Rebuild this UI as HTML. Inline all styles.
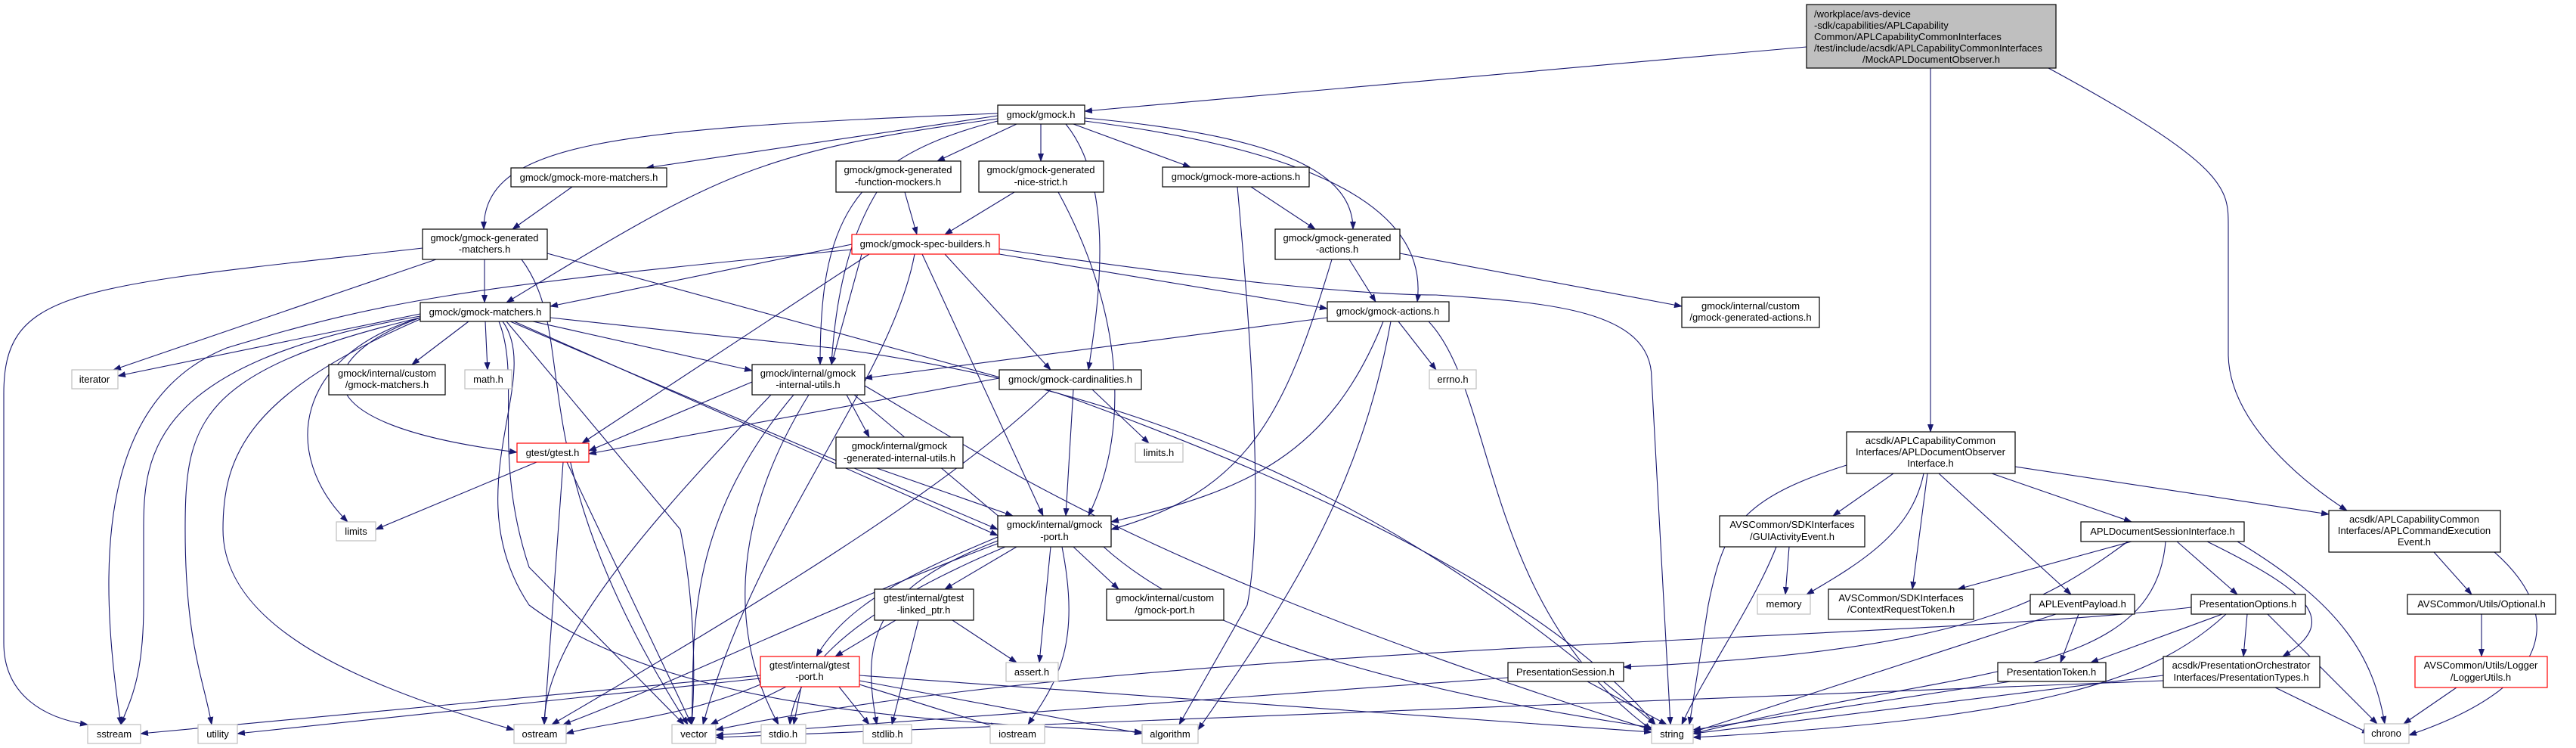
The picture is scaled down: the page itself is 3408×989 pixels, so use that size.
<!DOCTYPE html>
<html><head><meta charset="utf-8"><style>
html,body{margin:0;padding:0;background:#fff;}
svg{display:block;}
text{font-family:"Liberation Sans",Arial,sans-serif;font-size:13px;fill:#000;}
.e{fill:none;stroke:#191970;stroke-width:1.1;}
.n{fill:#fff;stroke:#000;stroke-width:1.2;}
.g{fill:#fff;stroke:#bfbfbf;stroke-width:1.2;}
.r{fill:#fff;stroke:#ff0000;stroke-width:1.2;}
</style></head><body>
<svg width="3408" height="989" viewBox="0 0 3408 989" xmlns="http://www.w3.org/2000/svg">
<defs><marker id="a" markerWidth="11" markerHeight="8" refX="10" refY="4" orient="auto" markerUnits="userSpaceOnUse"><path d="M0,0 L11,4 L0,8 z" fill="#191970"/></marker></defs>
<g class="e" marker-end="url(#a)">
<path d="M2390,62 L1435,147"/>
<path d="M2554,90 L2554,571"/>
<path d="M2710,90 C2950,220 2948,250 2948,300 L2948,470 C2950,560 3050,640 3105,675"/>
<path d="M1320,150 C800,170 640,190 640,303"/>
<path d="M1320,153 L855,222"/>
<path d="M1320,157 C1000,200 950,230 670,400"/>
<path d="M1345,164 L1240,213"/>
<path d="M1377,164 L1377,213"/>
<path d="M1420,164 L1575,221"/>
<path d="M1435,156 C1700,180 1790,230 1790,303"/>
<path d="M1435,160 C1750,200 1890,280 1875,399"/>
<path d="M1320,160 C1120,210 1085,300 1085,482"/>
<path d="M1410,164 C1480,250 1450,420 1440,489"/>
<path d="M757,247 L678,303"/>
<path d="M641,343 L641,400"/>
<path d="M577,343 L150,489"/>
<path d="M559,328 C100,380 5,380 5,520 L5,850 C5,920 60,950 116,958"/>
<path d="M724,335 L1400,520 C1900,700 2100,850 2190,958"/>
<path d="M690,343 C770,450 680,600 910,958"/>
<path d="M556,415 L156,497"/>
<path d="M620,425 L545,482"/>
<path d="M642,425 L645,489"/>
<path d="M705,425 L995,490"/>
<path d="M556,420 C420,470 380,560 684,598"/>
<path d="M556,420 C390,470 370,600 460,690"/>
<path d="M556,418 C200,480 190,600 190,700 L190,800 C190,900 170,930 160,958"/>
<path d="M556,420 C260,490 245,560 245,700 C245,850 270,900 280,958"/>
<path d="M556,422 C330,520 295,600 295,700 C295,820 450,900 680,965"/>
<path d="M660,425 C690,500 650,600 700,750 L905,958"/>
<path d="M670,425 L900,700 C920,800 920,900 915,958"/>
<path d="M675,425 L1320,700"/>
<path d="M680,425 L1320,708"/>
<path d="M728,420 L1100,460 C1700,540 2000,800 2190,958"/>
<path d="M665,425 C720,500 600,650 700,800 C900,950 1300,955 1511,968"/>
<path d="M1127,323 L728,405"/>
<path d="M1140,336 L1100,482"/>
<path d="M1150,336 L770,586"/>
<path d="M1250,336 L1390,489"/>
<path d="M1220,336 L1380,682"/>
<path d="M1210,336 C1180,500 1000,700 930,958"/>
<path d="M1127,330 C600,380 500,400 300,460 C150,520 120,700 160,958"/>
<path d="M1322,336 L1756,408"/>
<path d="M1322,329 C1600,370 1800,390 1900,390 C2050,400 2185,410 2185,500 L2210,958"/>
<path d="M1197,254 L1213,310"/>
<path d="M1160,254 C1120,320 1105,400 1100,482"/>
<path d="M1342,254 L1250,310"/>
<path d="M1400,254 C1480,400 1500,560 1440,682"/>
<path d="M1655,247 L1740,303"/>
<path d="M1637,247 C1660,500 1670,700 1650,800 L1560,958"/>
<path d="M1785,343 L1820,399"/>
<path d="M1852,335 L2225,405"/>
<path d="M1762,343 C1700,550 1650,650 1470,700"/>
<path d="M1756,420 L1144,500"/>
<path d="M1830,425 C1760,600 1650,650 1470,690"/>
<path d="M1850,425 L1900,489"/>
<path d="M1890,425 C1980,520 1960,800 2185,965"/>
<path d="M1840,425 C1800,650 1700,800 1585,965"/>
<path d="M995,505 L779,596"/>
<path d="M1120,522 L1150,578"/>
<path d="M1130,522 L1330,690"/>
<path d="M1020,522 C850,700 720,850 720,958"/>
<path d="M1050,522 C900,700 920,850 915,958"/>
<path d="M1070,522 C960,700 970,850 1030,958"/>
<path d="M1144,510 C1300,600 1500,750 2185,965"/>
<path d="M1322,500 L779,600"/>
<path d="M1445,515 L1520,586"/>
<path d="M1420,515 L1410,682"/>
<path d="M1390,515 C1250,650 1000,800 730,958"/>
<path d="M710,611 L497,700"/>
<path d="M745,611 L720,958"/>
<path d="M750,611 L915,958"/>
<path d="M1160,619 L1340,682"/>
<path d="M1345,723 L1250,779"/>
<path d="M1420,723 L1480,779"/>
<path d="M1390,723 L1375,876"/>
<path d="M1405,723 C1430,850 1400,900 1360,958"/>
<path d="M1320,715 C1150,780 1140,850 1160,958"/>
<path d="M1320,710 C1200,760 1120,800 1080,868"/>
<path d="M1460,723 C1600,850 1900,920 2185,962"/>
<path d="M1330,723 C1100,820 1050,900 1045,958"/>
<path d="M1330,715 C1100,800 900,900 745,958"/>
<path d="M1185,820 L1105,868"/>
<path d="M1260,820 L1345,876"/>
<path d="M1215,820 L1180,958"/>
<path d="M1006,893 L186,970"/>
<path d="M1006,897 L314,970"/>
<path d="M1040,908 L940,958"/>
<path d="M1060,908 L1050,958"/>
<path d="M1110,908 L1150,958"/>
<path d="M1137,905 L1320,962"/>
<path d="M1137,900 L1511,970"/>
<path d="M1137,893 L2185,968"/>
<path d="M1006,905 C900,950 800,955 749,970"/>
<path d="M2505,626 L2425,682"/>
<path d="M2545,626 C2530,700 2470,740 2390,786"/>
<path d="M2550,626 L2530,779"/>
<path d="M2565,626 L2740,786"/>
<path d="M2635,626 L2820,690"/>
<path d="M2666,617 L3081,680"/>
<path d="M2443,615 C2300,660 2280,700 2260,800 L2235,958"/>
<path d="M2367,723 L2362,786"/>
<path d="M2350,723 C2320,800 2250,900 2225,958"/>
<path d="M2820,716 L2590,779"/>
<path d="M2815,716 C2700,800 2600,860 2148,882"/>
<path d="M2880,716 L2960,786"/>
<path d="M2920,716 C3050,780 3100,820 3020,868"/>
<path d="M2960,716 C3100,800 3140,870 3155,957"/>
<path d="M2865,716 C2850,900 2600,880 2240,970"/>
<path d="M2750,812 L2726,876"/>
<path d="M2720,812 L2240,968"/>
<path d="M2940,812 L2766,876"/>
<path d="M2973,812 L2968,868"/>
<path d="M3000,812 L3145,957"/>
<path d="M2945,812 C2850,900 2700,950 2240,975"/>
<path d="M2899,803 C2500,850 1500,850 947,965"/>
<path d="M2100,901 L2205,958"/>
<path d="M1995,896 L947,972"/>
<path d="M2660,901 L2240,965"/>
<path d="M3010,909 L3135,970"/>
<path d="M2862,893 L2240,970"/>
<path d="M2862,900 L947,975"/>
<path d="M3220,730 L3270,786"/>
<path d="M3300,730 C3380,800 3400,900 3187,972"/>
<path d="M3283,812 L3283,868"/>
<path d="M3250,909 L3180,957"/>
</g>
<!-- nodes -->
<rect x="2390" y="6" width="330" height="84" fill="#bfbfbf" stroke="#000" stroke-width="1.2"/>
<text x="2400" y="23">/workplace/avs-device</text>
<text x="2400" y="38">-sdk/capabilities/APLCapability</text>
<text x="2400" y="53">Common/APLCapabilityCommonInterfaces</text>
<text x="2400" y="68">/test/include/acsdk/APLCapabilityCommonInterfaces</text>
<text x="2555" y="83" text-anchor="middle">/MockAPLDocumentObserver.h</text>
<g text-anchor="middle">
<rect class="n" x="1320" y="139" width="115" height="25"/><text x="1377" y="156">gmock/gmock.h</text>
<rect class="n" x="676" y="222" width="206" height="25"/><text x="779" y="239">gmock/gmock-more-matchers.h</text>
<rect class="n" x="559" y="303" width="165" height="40"/><text x="641" y="319">gmock/gmock-generated</text><text x="641" y="334">-matchers.h</text>
<rect class="n" x="556" y="400" width="172" height="25"/><text x="642" y="417">gmock/gmock-matchers.h</text>
<rect class="g" x="95" y="489" width="61" height="25"/><text x="125" y="506">iterator</text>
<rect class="n" x="435" y="482" width="154" height="40"/><text x="512" y="498">gmock/internal/custom</text><text x="512" y="513">/gmock-matchers.h</text>
<rect class="g" x="615" y="489" width="62" height="25"/><text x="646" y="506">math.h</text>
<rect class="n" x="995" y="482" width="149" height="40"/><text x="1069" y="498">gmock/internal/gmock</text><text x="1069" y="513">-internal-utils.h</text>
<rect class="r" x="684" y="586" width="95" height="25"/><text x="731" y="603">gtest/gtest.h</text>
<rect class="g" x="445" y="690" width="52" height="25"/><text x="471" y="707">limits</text>
<rect class="g" x="116" y="958" width="70" height="25"/><text x="151" y="975">sstream</text>
<rect class="g" x="262" y="958" width="52" height="25"/><text x="288" y="975">utility</text>
<rect class="g" x="680" y="958" width="69" height="25"/><text x="714" y="975">ostream</text>
<rect class="g" x="889" y="958" width="58" height="25"/><text x="918" y="975">vector</text>
<rect class="g" x="1007" y="958" width="59" height="25"/><text x="1036" y="975">stdio.h</text>
<rect class="r" x="1006" y="868" width="131" height="40"/><text x="1071" y="884">gtest/internal/gtest</text><text x="1071" y="899">-port.h</text>
<rect class="n" x="1106" y="213" width="165" height="41"/><text x="1188" y="229">gmock/gmock-generated</text><text x="1188" y="245">-function-mockers.h</text>
<rect class="n" x="1295" y="213" width="165" height="41"/><text x="1377" y="229">gmock/gmock-generated</text><text x="1377" y="245">-nice-strict.h</text>
<rect class="n" x="1538" y="221" width="194" height="26"/><text x="1635" y="238">gmock/gmock-more-actions.h</text>
<rect class="r" x="1127" y="310" width="195" height="26"/><text x="1224" y="327">gmock/gmock-spec-builders.h</text>
<rect class="n" x="1687" y="303" width="165" height="40"/><text x="1769" y="319">gmock/gmock-generated</text><text x="1769" y="334">-actions.h</text>
<rect class="n" x="1756" y="399" width="161" height="26"/><text x="1836" y="416">gmock/gmock-actions.h</text>
<rect class="n" x="2225" y="393" width="182" height="40"/><text x="2316" y="409">gmock/internal/custom</text><text x="2316" y="424">/gmock-generated-actions.h</text>
<rect class="g" x="1891" y="489" width="62" height="25"/><text x="1922" y="506">errno.h</text>
<rect class="n" x="1322" y="489" width="188" height="26"/><text x="1416" y="506">gmock/gmock-cardinalities.h</text>
<rect class="g" x="1502" y="586" width="63" height="25"/><text x="1533" y="603">limits.h</text>
<rect class="n" x="1106" y="578" width="168" height="41"/><text x="1190" y="594">gmock/internal/gmock</text><text x="1190" y="610">-generated-internal-utils.h</text>
<rect class="n" x="1320" y="682" width="150" height="41"/><text x="1395" y="698">gmock/internal/gmock</text><text x="1395" y="714">-port.h</text>
<rect class="n" x="1157" y="779" width="131" height="41"/><text x="1222" y="795">gtest/internal/gtest</text><text x="1222" y="811">-linked_ptr.h</text>
<rect class="n" x="1464" y="779" width="155" height="41"/><text x="1541" y="795">gmock/internal/custom</text><text x="1541" y="811">/gmock-port.h</text>
<rect class="g" x="1331" y="876" width="69" height="25"/><text x="1365" y="893">assert.h</text>
<rect class="n" x="1995" y="876" width="153" height="25"/><text x="2071" y="893">PresentationSession.h</text>
<rect class="g" x="1142" y="958" width="64" height="25"/><text x="1174" y="975">stdlib.h</text>
<rect class="g" x="1310" y="958" width="72" height="25"/><text x="1346" y="975">iostream</text>
<rect class="g" x="1511" y="958" width="74" height="25"/><text x="1548" y="975">algorithm</text>
<rect class="g" x="2185" y="958" width="55" height="25"/><text x="2212" y="975">string</text>
<rect class="n" x="2443" y="571" width="223" height="55"/><text x="2554" y="587">acsdk/APLCapabilityCommon</text><text x="2554" y="602">Interfaces/APLDocumentObserver</text><text x="2554" y="617">Interface.h</text>
<rect class="n" x="2275" y="682" width="192" height="41"/><text x="2371" y="698">AVSCommon/SDKInterfaces</text><text x="2371" y="714">/GUIActivityEvent.h</text>
<rect class="g" x="2325" y="786" width="70" height="26"/><text x="2360" y="803">memory</text>
<rect class="n" x="2419" y="779" width="192" height="40"/><text x="2515" y="795">AVSCommon/SDKInterfaces</text><text x="2515" y="810">/ContextRequestToken.h</text>
<rect class="n" x="2686" y="786" width="138" height="26"/><text x="2755" y="803">APLEventPayload.h</text>
<rect class="n" x="2753" y="690" width="216" height="26"/><text x="2861" y="707">APLDocumentSessionInterface.h</text>
<rect class="n" x="2899" y="786" width="151" height="26"/><text x="2974" y="803">PresentationOptions.h</text>
<rect class="n" x="3081" y="675" width="227" height="55"/><text x="3194" y="691">acsdk/APLCapabilityCommon</text><text x="3194" y="706">Interfaces/APLCommandExecution</text><text x="3194" y="721">Event.h</text>
<rect class="n" x="3185" y="786" width="196" height="26"/><text x="3283" y="803">AVSCommon/Utils/Optional.h</text>
<rect class="n" x="2643" y="876" width="143" height="25"/><text x="2714" y="893">PresentationToken.h</text>
<rect class="n" x="2862" y="868" width="207" height="41"/><text x="2965" y="884">acsdk/PresentationOrchestrator</text><text x="2965" y="900">Interfaces/PresentationTypes.h</text>
<rect class="r" x="3195" y="868" width="175" height="41"/><text x="3282" y="884">AVSCommon/Utils/Logger</text><text x="3282" y="900">/LoggerUtils.h</text>
<rect class="g" x="3128" y="957" width="59" height="26"/><text x="3157" y="974">chrono</text>
</g>
</svg>
</body></html>
